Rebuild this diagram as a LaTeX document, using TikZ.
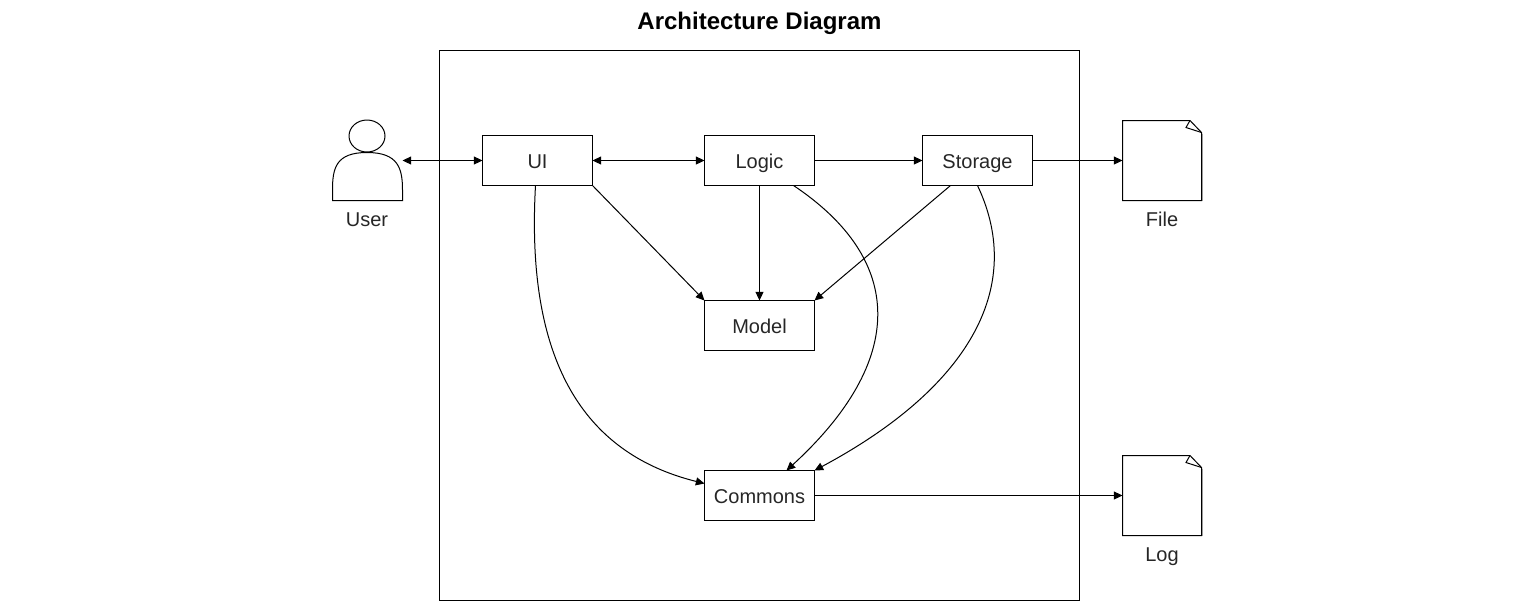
\documentclass[tikz,border=0pt]{standalone}
\usepackage{fontspec}
\setmainfont{Liberation Sans}
\usetikzlibrary{arrows.meta}

\tikzset{
    box/.style={draw, line width=0.75pt, minimum width=82.5pt, minimum height=37.5pt, inner sep=0pt, outer sep=0pt},
    spot/.style={minimum width=#1, minimum height=60pt, inner sep=0pt, outer sep=0pt},
    label/.style={text=black!85, text height=12pt, text depth=0.6pt},
    link/.style={line width=0.75pt, -{Triangle[length=6.5pt,width=6pt]}},
    duplex/.style={line width=0.75pt, {Triangle[length=6.5pt,width=6pt]}-{Triangle[length=6.5pt,width=6pt]}},
}

\begin{document}
\begin{tikzpicture}[x=0.75pt, y=-0.75pt, font=\fontsize{15pt}{18pt}\selectfont]
    \useasboundingbox (0,0) rectangle (1519,601);

    % Title and outer frame
    \node[font=\bfseries\fontsize{18pt}{22pt}\selectfont, text=black] (Title) at (759.5,23) {Architecture Diagram};
    \draw[line width=0.75pt] (439.5,50.5) rectangle (1079.5,600.5);

    % Components
    \node[box, label] (UI) at (537.5,160.5) {UI};
    \node[box, label] (Logic) at (759.5,160.5) {Logic};
    \node[box, label] (Storage) at (977.5,160.5) {Storage};
    \node[box, label] (Model) at (759.5,325.5) {Model};
    \node[box, label] (Commons) at (759.5,495.5) {Commons};

    % User
    \node[spot=52.5pt] (User) at (367.5,160.5) {};
    \draw[line width=0.75pt] (367,136) ellipse (18 and 16);
    \draw[line width=0.75pt] (332.5,200.5) -- (332.5,190) .. controls (332.5,168) and (336,152.5) .. (367,152.5)
        .. controls (398,152.5) and (402.5,168) .. (402.5,190) -- (402.5,200.5) -- cycle;
    \node[label] (UserText) at (367,219) {User};

    % File and Log
    \foreach \name/\y/\word in {File/120.5/File, Log/455.5/Log} {
        \begin{scope}[shift={(0,\y)}]
            \node[spot=59.25pt] (\name) at (1162,40) {};
            \draw[black!30, line width=0.75pt] (1202.5,13) -- (1202.5,80);
            \draw[line width=0.75pt] (1122.5,0) -- (1190,0) -- (1201.5,12) -- (1201.5,80) -- (1122.5,80) -- cycle;
            \draw[line width=0.75pt] (1190,0) -- (1186,7) -- (1201.5,12);
            \node[label] (\name Text) at (1162,98.5) {\word};
        \end{scope}
    }

    % Straight connectors
    \draw[duplex] (User.east) -- (UI.west);
    \draw[duplex] (UI.east) -- (Logic.west);
    \draw[link] (Logic.east) -- (Storage.west);
    \draw[link] (Storage.east) -- (File.west);
    \draw[link] (Commons.east) -- (Log.west);
    \draw[link] (UI.south east) -- (Model.north west);
    \draw[link] (Logic.south) -- (Model.north);
    \draw[link] ([xshift=-20.25pt]Storage.south) -- (Model.north east);

    % Curved connectors
    \draw[link] ([xshift=-1.5pt]UI.south) .. controls (525,370) and (590,455) .. ([yshift=9pt]Commons.west);
    \draw[link] ([xshift=25.5pt]Logic.south) .. controls (905,260) and (907,360) .. ([xshift=20.25pt]Commons.north);
    \draw[link] (Storage.south) .. controls (1027,290) and (965,390) .. (Commons.north east);
\end{tikzpicture}
\end{document}
